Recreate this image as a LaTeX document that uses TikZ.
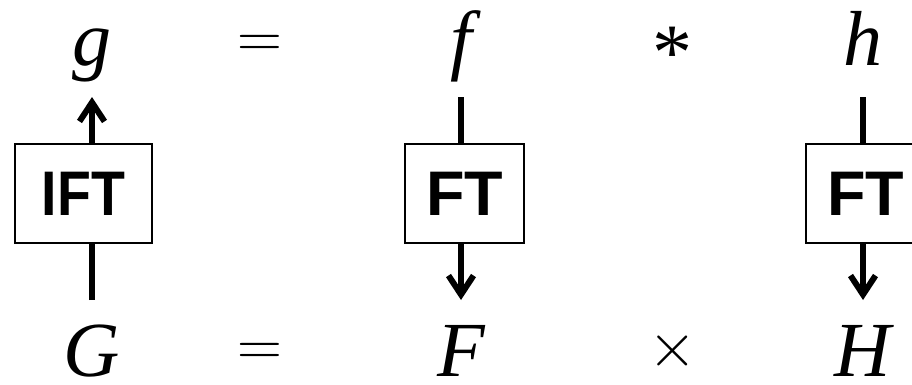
\documentclass[tikz,border=0pt]{standalone}
\usepackage{fontspec}
\usepackage{graphicx}
\setmainfont{Liberation Serif}
\newfontfamily\boxfont{Liberation Sans}
\usetikzlibrary{arrows.meta}
\newcommand{\bigop}[1]{\scalebox{3}{$#1$}}
\tikzset{
  var/.style={anchor=base,inner sep=0pt,font=\fontsize{78}{78}\selectfont\itshape},
  oper/.style={anchor=base,inner sep=0pt,font=\fontsize{20}{20}\selectfont},
  ftbox/.style={draw,line width=2pt,minimum height=99pt,inner sep=0pt,
    font=\boxfont\bfseries\fontsize{63}{63}\selectfont},
  conn/.style={line width=6pt},
  tip/.style={-{Straight Barb[length=19pt,width=25pt]}}
}
\begin{document}
\begin{tikzpicture}[x=1pt,y=1pt]
\useasboundingbox (0,0) rectangle (912,384);
% top row
\node[var] (g) at (92,319) {g};
\node[oper] (eqtop) at (260,326) {\bigop{=}};
\node[var] (f) at (461,319) {f};
\node[oper,font=\fontsize{80}{80}\selectfont] (conv) at (672,305) {*};
\node[var] (h) at (863,319) {h};
% bottom row
\node[var] (G) at (92,8) {G};
\node[oper] (eqbot) at (260,19) {\bigop{=}};
\node[var] (F) at (461,8) {F};
\node[oper] (times) at (673,18) {\bigop{\times}};
\node[var] (H) at (863,8) {H};
% transforms
\node[ftbox,minimum width=137pt] (ift) at (83.5,190.5) {\scalebox{0.88}[1]{IFT}};
\node[ftbox,minimum width=119pt] (ftf) at (464.5,190.5) {FT};
\node[ftbox,minimum width=119pt] (fth) at (865.5,190.5) {FT};
\coordinate (gtip) at (92,287);
\coordinate (Gtail) at (92,84);
\coordinate (ftail) at (461,287);
\coordinate (Ftip) at (461,84);
\coordinate (htail) at (863,287);
\coordinate (Htip) at (863,84);
\draw[conn,tip] (ift.north -| gtip) -- (gtip);
\draw[conn] (Gtail) -- (ift.south -| Gtail);
\draw[conn] (ftail) -- (ftf.north -| ftail);
\draw[conn,tip] (ftf.south -| Ftip) -- (Ftip);
\draw[conn] (htail) -- (fth.north -| htail);
\draw[conn,tip] (fth.south -| Htip) -- (Htip);
\end{tikzpicture}
\end{document}
